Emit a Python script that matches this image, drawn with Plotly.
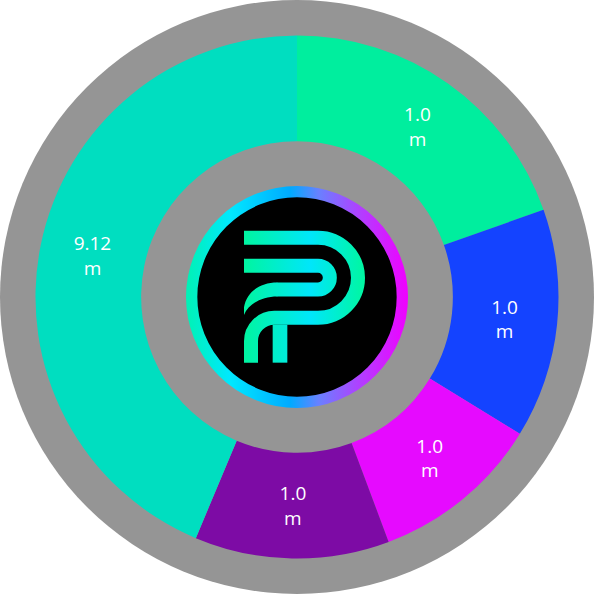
import base64
import plotly.graph_objects as go

# ---- data ----
segments = ["Segment A", "Segment B", "Segment C", "Segment D", "Segment E"]
shares = [4.09, 2.96, 2.20, 2.51, 9.12]
value_labels = ["1.0<br>m", "1.0<br>m", "1.0<br>m", "1.0<br>m", "9.12<br>m"]
colors = ["#00EE9E", "#1443FF", "#E60AFF", "#7D0BA5", "#00DEC0"]

GRAY = "#959595"

logo_svg = '''<svg xmlns="http://www.w3.org/2000/svg" width="702" height="702" viewBox="0 0 702 702">
<defs>
<linearGradient id="r" gradientUnits="userSpaceOnUse" x1="18" y1="0" x2="684" y2="0">
<stop offset="0" stop-color="#00F2B4"/>
<stop offset="0.2" stop-color="#00E8FF"/>
<stop offset="0.47" stop-color="#00AAFF"/>
<stop offset="0.6" stop-color="#6A80FF"/>
<stop offset="0.78" stop-color="#B040FF"/>
<stop offset="1" stop-color="#F000FF"/>
</linearGradient>
<linearGradient id="p" gradientUnits="userSpaceOnUse" x1="192" y1="0" x2="555" y2="0">
<stop offset="0" stop-color="#00F5A0"/>
<stop offset="0.55" stop-color="#00E6FA"/>
<stop offset="1" stop-color="#00F7A0"/>
</linearGradient>
</defs>
<circle cx="351" cy="351" r="316" fill="#000" stroke="url(#r)" stroke-width="34"/>
<g fill="none" stroke="url(#p)" stroke-width="42">
<path d="M192 173.5 H414 A120 120 0 0 1 414 413.5 H283 A70 70 0 0 0 213 483.5 V548"/>
<path d="M192 257.5 H414 A35 35 0 0 1 414 328.5 H290"/>
</g>
<g fill="url(#p)">
<rect x="278" y="434" width="44" height="114"/>
<path d="M292 307.5 C240 307.5 200 335 192 382 L192 405 C205 372 245 349.5 292 349.5 Z"/>
</g>
</svg>'''
logo_uri = "data:image/svg+xml;base64," + base64.b64encode(logo_svg.encode()).decode()

W = 594
fig = go.Figure()
fig.add_trace(go.Pie(
    labels=segments,
    values=shares,
    text=value_labels,
    texttemplate="%{text}",
    textinfo="text",
    textposition="inside",
    insidetextorientation="horizontal",
    textfont=dict(family="Open Sans", size=19, color="white"),
    marker=dict(colors=colors, line=dict(width=0)),
    hole=0.596,
    sort=False,
    direction="clockwise",
    rotation=0,
    domain=dict(x=[35.5 / W, 558.5 / W], y=[35.5 / W, 558.5 / W]),
    showlegend=False,
    hoverinfo="label+percent",
))

fig.update_layout(
    width=W, height=W,
    margin=dict(l=0, r=0, t=0, b=0),
    paper_bgcolor="white",
    plot_bgcolor="white",
    shapes=[dict(type="circle", xref="paper", yref="paper", x0=0, y0=0, x1=1, y1=1,
                 fillcolor=GRAY, line=dict(width=0), layer="below")],
    images=[dict(source=logo_uri, xref="paper", yref="paper",
                 x=180 / W, y=1 - 180 / W, sizex=234 / W, sizey=234 / W,
                 xanchor="left", yanchor="top", sizing="stretch", layer="above")],
)

fig.write_html("out.html")
